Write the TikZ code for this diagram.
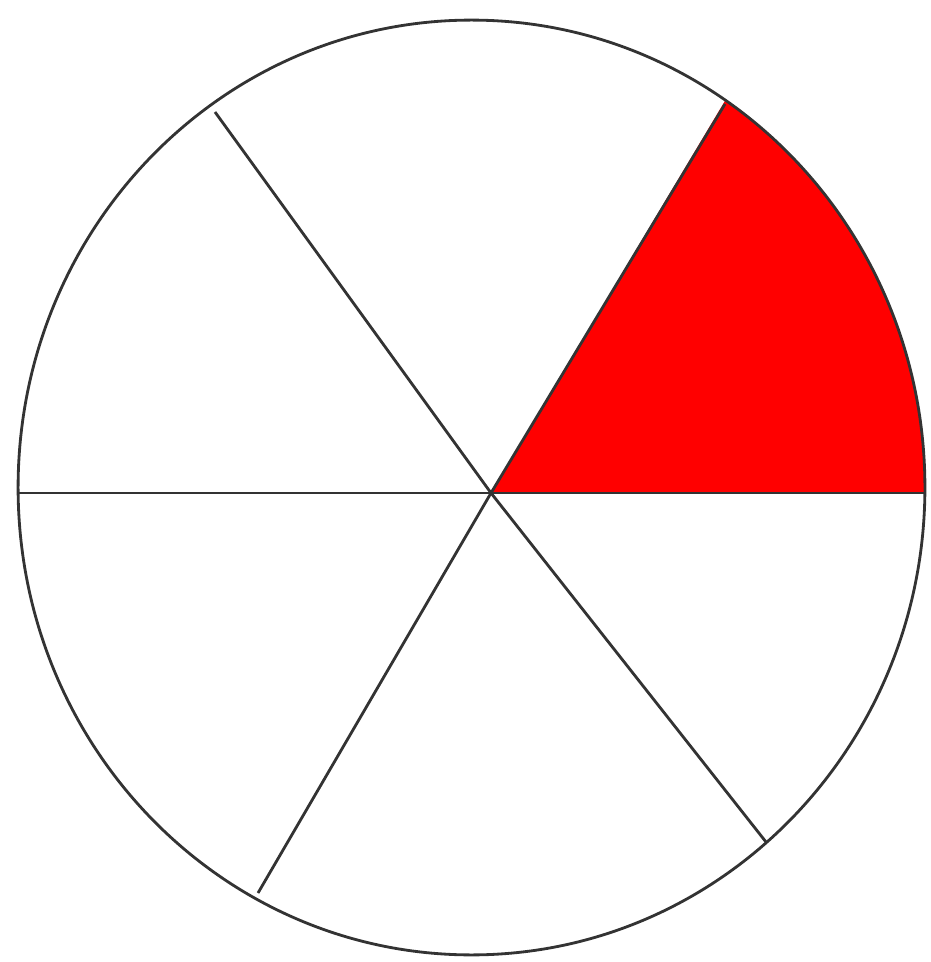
\documentclass[tikz,border=0pt]{standalone}
\begin{document}
\begin{tikzpicture}[x=0.02cm,y=0.02cm]
\tikzset{spoke/.style={draw=black!80,line width=1.6pt}}
\useasboundingbox (0,0) rectangle (930,-962);

\coordinate (o) at (491,-493);
\coordinate (e) at (924.5,-493);
\coordinate (w) at (18,-493);
\coordinate (ne) at (725,-104);
\coordinate (nw) at (215,-112);
\coordinate (sw) at (258,-893);
\coordinate (se) at (766,-842);

\fill[red] (o) -- (e) arc[start angle=-0.7, end angle=55.9, x radius=9.07cm, y radius=9.35cm] -- cycle;

\draw[spoke] (471.5,-487.5) ellipse[x radius=9.07cm, y radius=9.35cm];
\draw[spoke] (w) -- (e);
\draw[spoke] (o) -- (ne);
\draw[spoke] (o) -- (nw);
\draw[spoke] (o) -- (sw);
\draw[spoke] (o) -- (se);
\end{tikzpicture}
\end{document}
